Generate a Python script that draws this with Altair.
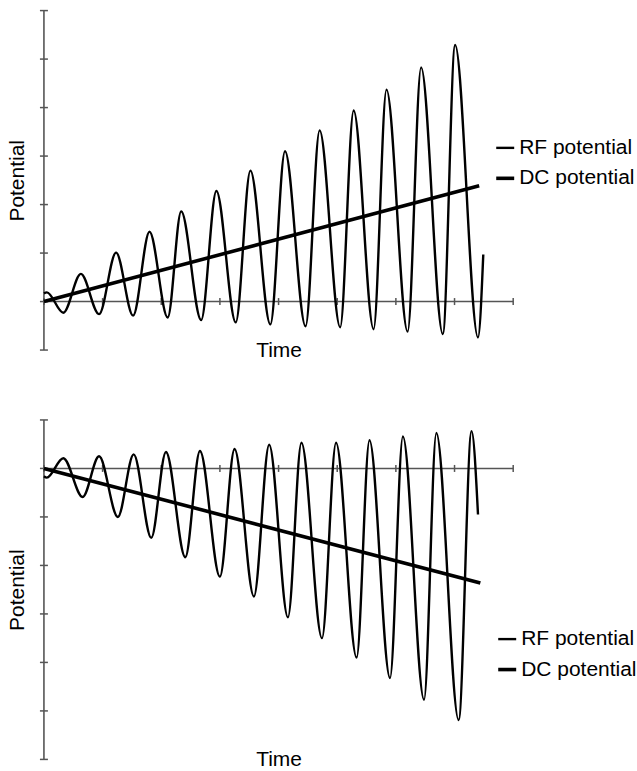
import altair as alt
import pandas as pd

FONT = "Liberation Sans"
AXIS_COLOR = "#555555"
series = ["RF potential", "DC potential"]
time_ticks = [0, 1, 2, 3, 4, 5, 6, 7, 8]

# ---- top panel (DC rising) ----
top_rf_t = [0.00, 0.05, 0.33, 0.63, 0.94, 1.23, 1.52, 1.80, 2.11, 2.34, 2.68, 2.94, 3.27, 3.52,
            3.86, 4.11, 4.46, 4.70, 5.05, 5.28, 5.62, 5.84, 6.20, 6.43, 6.80, 7.01, 7.40, 7.49]
top_rf_v = [0.17, 0.19, -0.23, 0.57, -0.26, 1.01, -0.29, 1.44, -0.33, 1.86, -0.38, 2.28, -0.43, 2.70,
            -0.47, 3.10, -0.51, 3.53, -0.53, 3.94, -0.57, 4.37, -0.62, 4.83, -0.67, 5.29, -0.74, 0.97]
top_dc_t = [0.0, 7.42]
top_dc_v = [0.0, 2.39]
top_y_ticks = [-1, 0, 1, 2, 3, 4, 5, 6]

# ---- bottom panel (DC falling) ----
bot_rf_t = [0.00, 0.05, 0.33, 0.66, 0.94, 1.26, 1.53, 1.83, 2.08, 2.41, 2.66, 3.00, 3.25, 3.58,
            3.84, 4.16, 4.39, 4.74, 4.98, 5.33, 5.55, 5.90, 6.12, 6.48, 6.69, 7.07, 7.29, 7.40]
bot_rf_v = [-0.16, -0.19, 0.21, -0.59, 0.25, -1.00, 0.29, -1.43, 0.34, -1.83, 0.36, -2.23, 0.40, -2.64,
            0.49, -3.07, 0.53, -3.50, 0.53, -3.90, 0.58, -4.32, 0.66, -4.77, 0.73, -5.19, 0.77, -0.95]
bot_dc_t = [0.0, 7.44]
bot_dc_v = [0.0, -2.36]
bot_y_ticks = [-6, -5, -4, -3, -2, -1, 0, 1]


def panel(rf_t, rf_v, dc_t, dc_v, y_ticks, leg_x, leg_y):
    xs = alt.Scale(domain=[min(time_ticks), max(time_ticks)], nice=False, zero=False)
    ys = alt.Scale(domain=[min(y_ticks), max(y_ticks)], nice=False, zero=False)
    ax_x = alt.Axis(title="Time", domain=False, ticks=False, labels=False, grid=False,
                    titlePadding=-11, titleFont=FONT, titleFontSize=21,
                    titleFontWeight="normal", titleColor="black")
    ax_y = alt.Axis(title="Potential", domain=False, ticks=False, labels=False, grid=False,
                    titlePadding=16, titleFont=FONT, titleFontSize=21,
                    titleFontWeight="normal", titleColor="black")

    df = pd.DataFrame({
        "t": rf_t + dc_t,
        "v": rf_v + dc_v,
        "series": [series[0]] * len(rf_t) + [series[1]] * len(dc_t),
    })

    axis_x = pd.DataFrame({"t": [min(time_ticks)], "b": [max(time_ticks)], "v": [0]})
    axis_y = pd.DataFrame({"v": [min(y_ticks)], "b": [max(y_ticks)], "t": [0]})
    xt = pd.DataFrame({"t": time_ticks, "v": [0] * len(time_ticks)})
    yt = pd.DataFrame({"v": y_ticks, "t": [0] * len(y_ticks)})

    X = alt.X("t:Q", scale=xs, axis=ax_x)
    Y = alt.Y("v:Q", scale=ys, axis=ax_y)

    xrule = alt.Chart(axis_x).mark_rule(color=AXIS_COLOR, strokeWidth=1.6).encode(
        x=X, x2="b:Q", y=Y)
    yrule = alt.Chart(axis_y).mark_rule(color=AXIS_COLOR, strokeWidth=1.6).encode(
        x=X, y=Y, y2="b:Q")
    xtick = alt.Chart(xt).mark_tick(orient="vertical", size=7, thickness=1.5,
                                    color=AXIS_COLOR, opacity=1).encode(x=X, y=Y)
    ytick = alt.Chart(yt).mark_tick(orient="horizontal", size=8, thickness=1.5,
                                    color=AXIS_COLOR, opacity=1).encode(x=X, y=Y)

    lines = alt.Chart(df).mark_line(interpolate="monotone", color="black").encode(
        x=X, y=Y,
        strokeWidth=alt.StrokeWidth("series:N",
                                    scale=alt.Scale(domain=series, range=[2.4, 3.6]),
                                    legend=alt.Legend(
                                        title=None, orient="none", legendX=leg_x, legendY=leg_y,
                                        symbolType="stroke", symbolSize=324,
                                        symbolStrokeColor="black",
                                        labelFont=FONT, labelFontSize=21, labelColor="black",
                                        labelOffset=3, rowPadding=9, padding=0)),
    )

    return alt.layer(xrule, yrule, xtick, ytick, lines).properties(width=470, height=340)


top = panel(top_rf_t, top_rf_v, top_dc_t, top_dc_v, top_y_ticks, 451, 127)
bottom = panel(bot_rf_t, bot_rf_v, bot_dc_t, bot_dc_v, bot_y_ticks, 453, 209)

chart = alt.vconcat(top, bottom, spacing=59).resolve_scale(
    strokeWidth="independent", x="independent", y="independent"
).resolve_legend(strokeWidth="independent").properties(
    padding={"left": 7, "top": 9, "right": 0, "bottom": 0},
    background="white",
).configure_view(stroke=None)

chart.save("out.html", embed_options={"renderer": "svg", "actions": False})
